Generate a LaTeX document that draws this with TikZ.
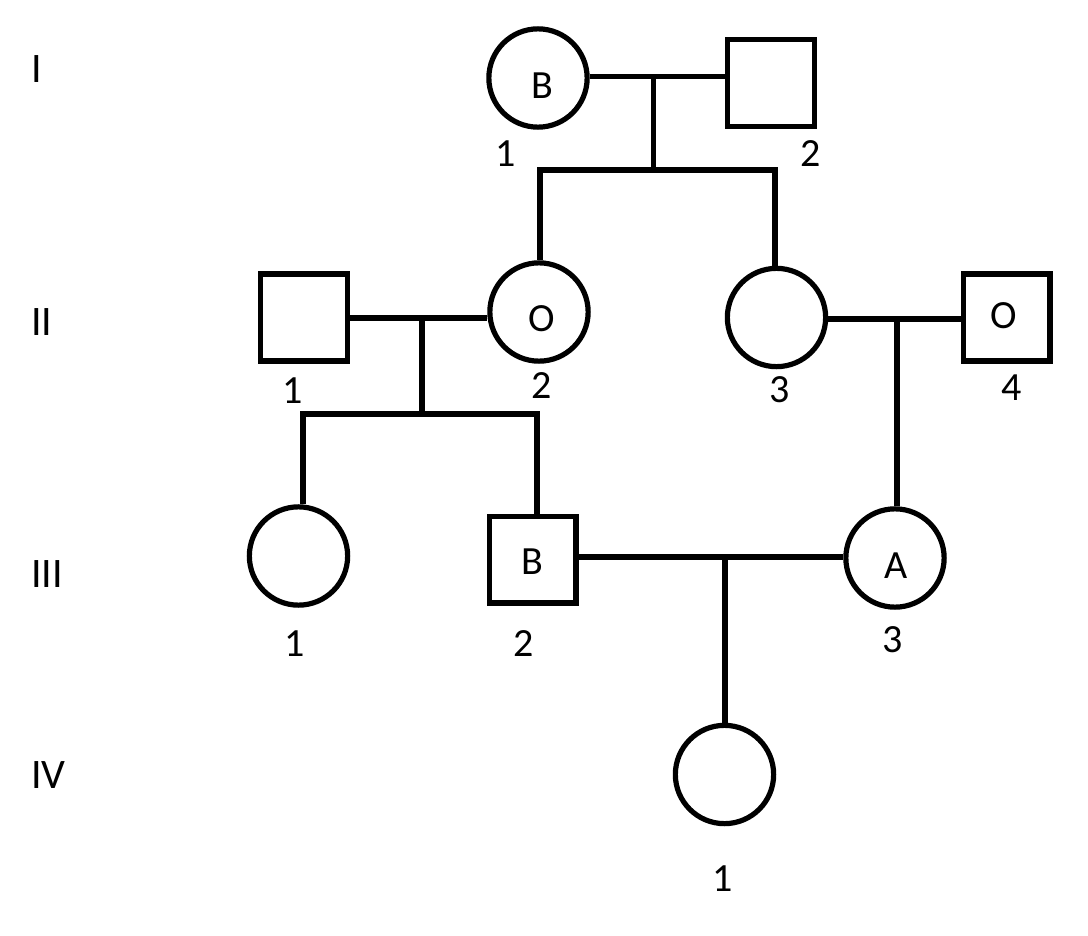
\documentclass[tikz,border=0pt]{standalone}
\usepackage{fontspec}
\setmainfont{Carlito}
\begin{document}
\begin{tikzpicture}[x=1pt,y=-1pt,line width=5.2pt,
  fem/.style={circle,draw,minimum size=98.3pt,inner sep=0pt},
  mal/.style={rectangle,draw,minimum size=86.8pt,inner sep=0pt},
  lbl/.style={anchor=base,inner sep=0pt,font=\fontsize{40}{48}\selectfont},
  gen/.style={anchor=base west,inner sep=0pt,font=\fontsize{42}{50}\selectfont}]
\useasboundingbox (0,0) rectangle (1088,936);
% generation labels
\node[gen] (gI)   at (28.5,83)  {I};
\node[gen] (gII)  at (28.5,335) {II};
\node[gen] (gIII) at (28.5,587) {III};
\node[gen] (gIV)  at (28.5,788) {IV};
% individuals
\node[fem] (f11) at (538,78) {};
\node[mal] (m12) at (771,83) {};
\node[mal] (m21) at (304,317.5) {};
\node[fem] (f22) at (539,312) {};
\node[fem] (f23) at (776.5,317.5) {};
\node[mal] (m24) at (1006.5,317.5) {};
\node[fem] (f31) at (298.5,556) {};
\node[mal] (m32) at (532.5,559.5) {};
\node[fem] (f33) at (895,558) {};
\node[fem] (f41) at (724.5,774.5) {};
% letters
\node[lbl] (tB1) at (542,99) {B};
\node[lbl] (tO2) at (542,331) {O};
\node[lbl] (tO4) at (1004,329) {O};
\node[lbl] (tB3) at (532,574) {B};
\node[lbl] (tA3) at (896,578) {A};
% numbers
\node[lbl] (n11) at (506,167) {1};
\node[lbl] (n12) at (811,167) {2};
\node[lbl] (n21) at (293,403) {1};
\node[lbl] (n22) at (542,398) {2};
\node[lbl] (n23) at (780,402) {3};
\node[lbl] (n24) at (1012,400) {4};
\node[lbl] (n31) at (295,656) {1};
\node[lbl] (n32) at (524,656) {2};
\node[lbl] (n33) at (893,652) {3};
\node[lbl] (n41) at (723,891) {1};
% generation I family
\coordinate (m1) at (653.5,76.5);
\coordinate (s1) at (653.5,170);
\coordinate (s1L) at (540,170);
\coordinate (s1R) at (775,170);
\draw (f11.east |- m1) -- (m12.west |- m1);
\draw (m1) -- (s1);
\draw (s1L |- f22.north) -- (s1L) -- (s1R) -- (s1R |- f23.north);
% generation II left family
\coordinate (m2) at (422,318);
\coordinate (s2) at (422,414);
\coordinate (s2L) at (303,414);
\coordinate (s2R) at (537,414);
\draw (m21.east |- m2) -- (f22.west |- m2);
\draw (m2) -- (s2);
\draw (s2L |- f31.north) -- (s2L) -- (s2R) -- (s2R |- m32.north);
% generation II right family
\coordinate (m3) at (897,319);
\draw (f23.east |- m3) -- (m24.west |- m3);
\draw (m3) -- (m3 |- f33.north);
% generation III family
\coordinate (m4) at (725,557);
\draw (m32.east |- m4) -- (f33.west |- m4);
\draw (m4) -- (m4 |- f41.north);
\end{tikzpicture}
\end{document}
